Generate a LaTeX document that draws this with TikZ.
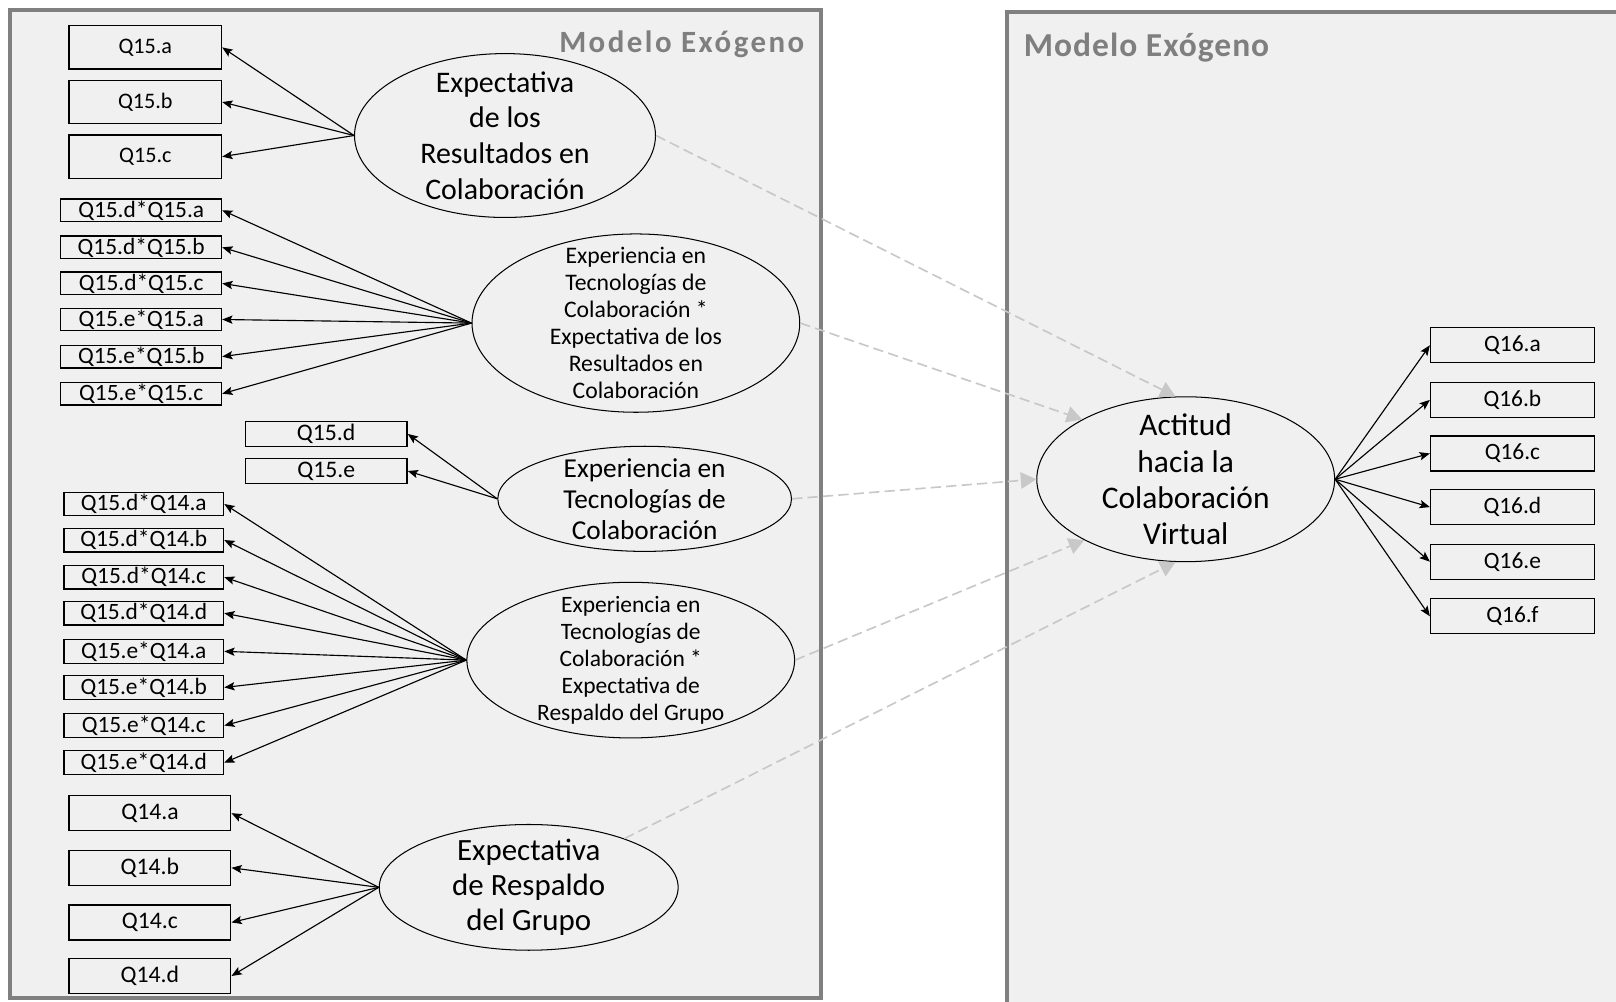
\documentclass[tikz,border=0pt]{standalone}
\usepackage{fontspec}
\setmainfont{Carlito}
\usetikzlibrary{shapes.geometric,arrows.meta}

\definecolor{panelfill}{RGB}{240,240,240}
\definecolor{panelline}{RGB}{128,128,128}
\definecolor{titlegray}{RGB}{127,127,127}
\definecolor{pathgray}{RGB}{200,200,200}

\begin{document}
\begin{tikzpicture}[x=1pt,y=-1pt,
  panel/.style={draw=panelline, line width=4pt, fill=panelfill},
  title/.style={text=titlegray, inner sep=0pt},
  qbox/.style={draw=black, line width=1.2pt, inner sep=0pt, rectangle},
  bigq/.style={qbox, minimum width=148pt, minimum height=42pt, font=\fontsize{21.5}{25}\selectfont},
  smallq/.style={qbox, minimum width=156pt, minimum height=22pt, font=\fontsize{22.7}{25}\selectfont},
  midq/.style={qbox, minimum width=157pt, minimum height=24pt, font=\fontsize{23}{25}\selectfont},
  prodq/.style={qbox, minimum width=155pt, minimum height=23pt, font=\fontsize{22.7}{25}\selectfont},
  lowq/.style={qbox, minimum width=157pt, minimum height=34pt, font=\fontsize{23}{25}\selectfont},
  outq/.style={qbox, minimum width=159pt, minimum height=34pt, font=\fontsize{22.7}{25}\selectfont},
  latent/.style={ellipse, draw=black, line width=1pt, inner sep=0pt},
  ltext/.style={inner sep=0pt, align=center},
  load/.style={draw=black, line width=1.1pt, -{Stealth[length=10pt,width=8pt,inset=2pt]}},
  path/.style={draw=pathgray, line width=1.6pt, dash pattern=on 10pt off 5pt,
               -{Triangle[length=15pt,width=16pt]}}
]
\clip (0,0) rectangle (1568,972);
\fill[white] (0,0) rectangle (1568,972);

% two model panels
\draw[panel] (10,10) rectangle (797,968);
\draw[panel] (977,12) rectangle (1620,1020);
\node[title, font=\addfontfeatures{LetterSpace=8}\bfseries\fontsize{30}{36}\selectfont]
  (t1) at (661.5,43) {Modelo Exógeno};
\node[title, font=\addfontfeatures{LetterSpace=3}\bfseries\fontsize{32.5}{36}\selectfont]
  (t2) at (1112.5,46) {Modelo Exógeno};

% latent variables: outlines
\node[latent, minimum width=292pt, minimum height=159pt] (e1) at (490,131.5) {};
\node[latent, minimum width=318pt, minimum height=173pt] (e2) at (617,313.5) {};
\node[latent, minimum width=285pt, minimum height=102pt] (e3) at (625.5,484) {};
\node[latent, minimum width=318pt, minimum height=151pt] (e4) at (612,640.5) {};
\node[latent, minimum width=290pt, minimum height=122pt] (e5) at (513,861) {};
\node[latent, minimum width=289pt, minimum height=160pt] (act) at (1150.5,465) {};

% latent variables: names
\node[ltext, font=\fontsize{29}{34.5}\selectfont] (e1t) at (e1.center)
  {Expectativa\\de los\\Resultados en\\Colaboración};
\node[ltext, font=\fontsize{23}{26.2}\selectfont] (e2t) at (e2.center)
  {Experiencia en\\Tecnologías de\\Colaboración *\\Expectativa de los\\Resultados en\\Colaboración};
\node[ltext, font=\fontsize{26.5}{30}\selectfont] (e3t) at (e3.center)
  {Experiencia en\\Tecnologías de\\Colaboración};
\node[ltext, font=\fontsize{22.8}{26.2}\selectfont] (e4t) at (e4.center)
  {Experiencia en\\Tecnologías de\\Colaboración *\\Expectativa de\\Respaldo del Grupo};
\node[ltext, font=\fontsize{30}{34}\selectfont] (e5t) at (e5.center)
  {Expectativa\\de Respaldo\\del Grupo};
\node[ltext, font=\fontsize{30.5}{35}\selectfont] (actt) at (act.center)
  {Actitud\\hacia la\\Colaboración\\Virtual};

% indicators
\node[bigq] (q15a) at (141,46) {Q15.a};
\node[bigq] (q15b) at (141,99) {Q15.b};
\node[bigq] (q15c) at (141,152) {Q15.c};

\node[smallq] (da) at (137,204) {Q15.d*Q15.a};
\node[smallq] (db) at (137,240) {Q15.d*Q15.b};
\node[smallq] (dc) at (137,275) {Q15.d*Q15.c};
\node[smallq] (ea) at (137,310) {Q15.e*Q15.a};
\node[smallq] (eb) at (137,346) {Q15.e*Q15.b};
\node[smallq] (ec) at (137,382) {Q15.e*Q15.c};

\node[midq] (q15d) at (316.5,421) {Q15.d};
\node[midq] (q15e) at (316.5,457) {Q15.e};

\node[prodq] (pda) at (139.5,489) {Q15.d*Q14.a};
\node[prodq] (pdb) at (139.5,524) {Q15.d*Q14.b};
\node[prodq] (pdc) at (139.5,560) {Q15.d*Q14.c};
\node[prodq] (pdd) at (139.5,595) {Q15.d*Q14.d};
\node[prodq] (pea) at (139.5,632) {Q15.e*Q14.a};
\node[prodq] (peb) at (139.5,667) {Q15.e*Q14.b};
\node[prodq] (pec) at (139.5,704) {Q15.e*Q14.c};
\node[prodq] (ped) at (139.5,740) {Q15.e*Q14.d};

\node[lowq] (q14a) at (145.5,789) {Q14.a};
\node[lowq] (q14b) at (145.5,842) {Q14.b};
\node[lowq] (q14c) at (145.5,895) {Q14.c};
\node[lowq] (q14d) at (145.5,947) {Q14.d};

\node[outq] (q16a) at (1467.5,335) {Q16.a};
\node[outq] (q16b) at (1467.5,388) {Q16.b};
\node[outq] (q16c) at (1467.5,440) {Q16.c};
\node[outq] (q16d) at (1467.5,492) {Q16.d};
\node[outq] (q16e) at (1467.5,545) {Q16.e};
\node[outq] (q16f) at (1467.5,598) {Q16.f};

% loadings
\foreach \q in {q15a,q15b,q15c} \draw[load] (e1.west) -- (\q.east);
\foreach \q in {da,db,dc,ea,eb,ec} \draw[load] (e2.west) -- (\q.east);
\foreach \q in {q15d,q15e} \draw[load] (e3.west) -- (\q.east);
\foreach \q in {pda,pdb,pdc,pdd,pea,peb,pec,ped} \draw[load] (e4.west) -- (\q.east);
\foreach \q in {q14a,q14b,q14c,q14d} \draw[load] (e5.west) -- (\q.east);
\foreach \q in {q16a,q16b,q16c,q16d,q16e,q16f} \draw[load] (act.east) -- (\q.west);

% structural paths
\draw[path] (e1.east) -- (act.97);
\draw[path] (e2.east) -- (act.150);
\draw[path] (e3.east) -- (act.west);
\draw[path] (e4.east) -- (act.211);
\draw[path] (e5.27) -- (act.263);
\end{tikzpicture}
\end{document}
